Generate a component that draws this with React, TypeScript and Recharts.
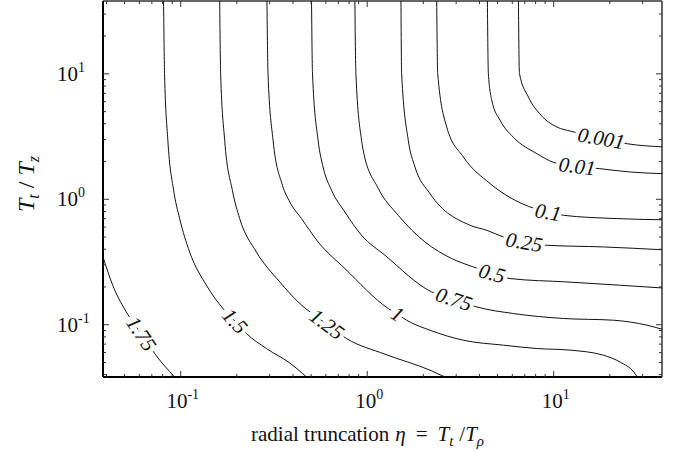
import React from 'react';
import { ComposedChart, Scatter, XAxis, YAxis, ReferenceDot } from 'recharts';

// axis range (both axes are log10)
const DOMAIN: [number, number] = [0.0383, 38.1];

const MAJOR_TICKS = [0.1, 1, 10];
const MINOR_TICKS = [
  0.04, 0.05, 0.06, 0.07, 0.08, 0.09,
  0.2, 0.3, 0.4, 0.5, 0.6, 0.7, 0.8, 0.9,
  2, 3, 4, 5, 6, 7, 8, 9,
  20, 30,
];
const ALL_TICKS = [...MINOR_TICKS, ...MAJOR_TICKS].sort((a, b) => a - b);

// contour lines (eta, Tt/Tz)
const c175 = [
  { x: 0.0383, y: 0.347 }, { x: 0.0432, y: 0.206 }, { x: 0.052, y: 0.121 },
  { x: 0.0614, y: 0.0846 }, { x: 0.0724, y: 0.059 }, { x: 0.0927, y: 0.0383 },
];
const c150 = [
  { x: 0.0809, y: 38.1 }, { x: 0.0819, y: 10.1 }, { x: 0.0853, y: 2.95 }, { x: 0.0916, y: 1.18 },
  { x: 0.0986, y: 0.706 }, { x: 0.1116, y: 0.38 }, { x: 0.1373, y: 0.2064 }, { x: 0.1685, y: 0.1346 },
  { x: 0.1948, y: 0.107 }, { x: 0.225, y: 0.0851 }, { x: 0.288, y: 0.0646 }, { x: 0.3846, y: 0.0495 },
  { x: 0.4727, y: 0.0383 },
];
const c125 = [
  { x: 0.1618, y: 38.1 }, { x: 0.1637, y: 10.1 }, { x: 0.1721, y: 2.95 }, { x: 0.1892, y: 1.18 },
  { x: 0.2071, y: 0.702 }, { x: 0.2547, y: 0.38 }, { x: 0.3398, y: 0.2193 }, { x: 0.426, y: 0.152 },
  { x: 0.6075, y: 0.1009 }, { x: 0.775, y: 0.0776 }, { x: 1.245, y: 0.0582 }, { x: 2.172, y: 0.0434 },
  { x: 2.614, y: 0.0383 },
];
const c100 = [
  { x: 0.29, y: 38.1 }, { x: 0.2938, y: 10.1 }, { x: 0.3128, y: 2.95 }, { x: 0.3512, y: 1.293 },
  { x: 0.3846, y: 0.952 }, { x: 0.4443, y: 0.702 }, { x: 0.5455, y: 0.457 }, { x: 0.759, y: 0.2805 },
  { x: 1.297, y: 0.1346 }, { x: 1.453, y: 0.1213 }, { x: 1.627, y: 0.1086 },
  { x: 2.172, y: 0.0904 }, { x: 3.28, y: 0.0752 }, { x: 5.377, y: 0.0687 }, { x: 8.125, y: 0.0646 },
  { x: 12.27, y: 0.0627 }, { x: 18.51, y: 0.0571 }, { x: 22.76, y: 0.0503 }, { x: 26.83, y: 0.0421 },
  { x: 28.08, y: 0.0383 },
];
const c075 = [
  { x: 0.5029, y: 38.1 }, { x: 0.5089, y: 10.1 }, { x: 0.5455, y: 2.95 }, { x: 0.58, y: 1.809 },
  { x: 0.644, y: 1.18 }, { x: 0.759, y: 0.792 }, { x: 0.933, y: 0.5165 }, { x: 1.245, y: 0.358 },
  { x: 2.218, y: 0.1826 }, { x: 2.92, y: 0.1596 }, { x: 3.868, y: 0.1386 }, { x: 6.083, y: 0.1228 },
  { x: 11.29, y: 0.1121 }, { x: 20.95, y: 0.1086 }, { x: 31.66, y: 0.0991 }, { x: 38.1, y: 0.0921 },
];
const c050 = [
  { x: 0.859, y: 38.1 }, { x: 0.8697, y: 10.1 }, { x: 0.933, y: 2.95 }, { x: 0.9517, y: 2.457 },
  { x: 1.146, y: 1.224 }, { x: 1.467, y: 0.7455 }, { x: 2.041, y: 0.457 }, { x: 2.84, y: 0.337 },
  { x: 3.71, y: 0.2888 }, { x: 4.675, y: 0.257 }, { x: 5.84, y: 0.2334 }, { x: 11.77, y: 0.2193 },
  { x: 22.76, y: 0.2064 }, { x: 38.1, y: 0.1964 },
];
const c025 = [
  { x: 1.517, y: 38.1 }, { x: 1.53, y: 10.1 }, { x: 1.661, y: 2.95 }, { x: 1.804, y: 1.809 },
  { x: 2.172, y: 1.11 }, { x: 3.561, y: 0.6206 }, { x: 4.377, y: 0.5662 },
  { x: 5.377, y: 0.5007 }, { x: 6.944, y: 0.455 }, { x: 9.195, y: 0.43 }, { x: 18.51, y: 0.417 },
  { x: 38.1, y: 0.396 },
];
const c010 = [
  { x: 2.359, y: 38.1 }, { x: 2.388, y: 10.1 }, { x: 2.669, y: 3.77 }, { x: 3.28, y: 2.173 },
  { x: 4.56, y: 1.334 }, { x: 7.477, y: 0.868 }, { x: 9.343, y: 0.788 },
  { x: 11.29, y: 0.7455 }, { x: 21.66, y: 0.702 }, { x: 38.1, y: 0.6866 },
];
const c001 = [
  { x: 4.411, y: 38.1 }, { x: 4.464, y: 10.1 }, { x: 4.658, y: 6.15 }, { x: 5.162, y: 4.26 },
  { x: 6.083, y: 3.119 }, { x: 8.125, y: 2.312 }, { x: 9.975, y: 1.971 }, { x: 13.37, y: 1.83 },
  { x: 17.55, y: 1.756 }, { x: 25.76, y: 1.65 }, { x: 38.1, y: 1.602 },
];
const c0001 = [
  { x: 6.471, y: 38.1 }, { x: 6.551, y: 10.1 }, { x: 7.322, y: 6.533 }, { x: 8.567, y: 4.67 },
  { x: 10.4, y: 3.77 }, { x: 12.42, y: 3.482 }, { x: 17.99, y: 3.062 }, { x: 24.97, y: 2.768 },
  { x: 38.1, y: 2.62 },
];

const CONTOURS = [c175, c150, c125, c100, c075, c050, c025, c010, c001, c0001];

// inline contour labels
const labelText = ['1.75', '1.5', '1.25', '1', '0.75', '0.5', '0.25', '0.1', '0.01', '0.001'];
const labelX = [0.0614, 0.1948, 0.6075, 1.453, 2.92, 4.675, 6.944, 9.343, 13.37, 17.99];
const labelY = [0.0846, 0.107, 0.1009, 0.1213, 0.1596, 0.257, 0.455, 0.788, 1.83, 3.062];

// label rotation (degrees, along the curve)
const LABEL_ROT = [56, 47, 37, 32, 18, 15, 10, 10, 7, 10];

const FONT = '"Liberation Serif", "Times New Roman", serif';
const MAJOR_LEN = 6;
const MINOR_LEN = 3;

const isMajor = (v: number) => MAJOR_TICKS.includes(v);
const expOf = (v: number) => String(Math.round(Math.log10(v)));

function TickLabel({ x, y, v, anchor }: any) {
  return (
    <text x={x} y={y} textAnchor={anchor} fontFamily={FONT} fontSize={21} fill="#111">
      10<tspan dy={-9} fontSize={14}>{expOf(v)}</tspan>
    </text>
  );
}

function BottomTick(props: any) {
  const { x, y, payload } = props;
  const v = payload.value;
  const m = isMajor(v);
  return (
    <g>
      <line x1={x} x2={x} y1={y} y2={y - (m ? MAJOR_LEN : MINOR_LEN)} stroke="#333" />
      {m && <TickLabel x={x + 2} y={y + 31} v={v} anchor="middle" />}
    </g>
  );
}

function TopTick(props: any) {
  const { x, y, payload } = props;
  const m = isMajor(payload.value);
  return <line x1={x} x2={x} y1={y} y2={y + (m ? MAJOR_LEN : MINOR_LEN)} stroke="#333" />;
}

function LeftTick(props: any) {
  const { x, y, payload } = props;
  const v = payload.value;
  const m = isMajor(v);
  return (
    <g>
      <line x1={x} x2={x + (m ? MAJOR_LEN : MINOR_LEN)} y1={y} y2={y} stroke="#333" />
      {m && <TickLabel x={x - 46} y={y + 7} v={v} anchor="start" />}
    </g>
  );
}

function RightTick(props: any) {
  const { x, y, payload } = props;
  const m = isMajor(payload.value);
  return <line x1={x} x2={x - (m ? MAJOR_LEN : MINOR_LEN)} y1={y} y2={y} stroke="#333" />;
}

function ContourLabel({ cx, cy, text, angle }: any) {
  return (
    <text
      transform={`translate(${cx},${cy}) rotate(${angle})`}
      textAnchor="middle"
      dominantBaseline="central"
      fontFamily={FONT}
      fontStyle="italic"
      fontSize={21}
      fill="#111"
      stroke="#fff"
      strokeWidth={8}
      paintOrder="stroke"
    >
      {text}
    </text>
  );
}

const noDot = () => <g />;

export default function App() {
  return (
    <div style={{ position: 'relative', width: 673, height: 451 }}>
      <style>{'body{margin:0}'}</style>
      <ComposedChart width={673} height={451} margin={{ top: 0, right: 0, bottom: 0, left: 0 }}>
        <XAxis
          xAxisId="b" dataKey="x" type="number" scale="log" domain={DOMAIN} allowDataOverflow
          ticks={ALL_TICKS} interval={0} height={74} tickSize={0} tickMargin={0} tickLine={false}
          axisLine={{ stroke: '#000', strokeWidth: 2 }} tick={<BottomTick />}
        />
        <XAxis
          xAxisId="t" orientation="top" dataKey="x" type="number" scale="log" domain={DOMAIN} allowDataOverflow
          ticks={ALL_TICKS} interval={0} height={1} tickSize={0} tickMargin={0} tickLine={false}
          axisLine={{ stroke: '#333', strokeWidth: 1.5 }} tick={<TopTick />}
        />
        <YAxis
          yAxisId="l" dataKey="y" type="number" scale="log" domain={DOMAIN} allowDataOverflow
          ticks={ALL_TICKS} interval={0} width={103} tickSize={0} tickMargin={0} tickLine={false}
          axisLine={{ stroke: '#000', strokeWidth: 2 }} tick={<LeftTick />}
        />
        <YAxis
          yAxisId="r" orientation="right" dataKey="y" type="number" scale="log" domain={DOMAIN} allowDataOverflow
          ticks={ALL_TICKS} interval={0} width={11} tickSize={0} tickMargin={0} tickLine={false}
          axisLine={{ stroke: '#333', strokeWidth: 1.5 }} tick={<RightTick />}
        />
        {CONTOURS.map((c, i) => (
          <Scatter
            key={`c-${i}`}
            data={c}
            xAxisId="b"
            yAxisId="l"
            line={{ stroke: '#111', strokeWidth: 1 }}
            lineJointType="monotoneX"
            shape={noDot}
            isAnimationActive={false}
          />
        ))}
        {labelText.map((t, i) => (
          <ReferenceDot
            key={`l-${i}`}
            xAxisId="b"
            yAxisId="l"
            x={labelX[i]}
            y={labelY[i]}
            r={0}
            shape={(p: any) => <ContourLabel cx={p.cx} cy={p.cy} text={t} angle={LABEL_ROT[i]} />}
          />
        ))}
      </ComposedChart>
      <svg width={673} height={451} style={{ position: 'absolute', left: 0, top: 0, pointerEvents: 'none' }}>
        <text x={251} y={441} fontFamily={FONT} fontSize={21} fill="#111">
          radial truncation
          <tspan dx={6} fontStyle="italic">η</tspan>
          <tspan dx={10}>=</tspan>
          <tspan dx={10} fontStyle="italic">T</tspan>
          <tspan dy={5} fontSize={15} fontStyle="italic">t</tspan>
          <tspan dy={-5} dx={6}>/</tspan>
          <tspan fontStyle="italic">T</tspan>
          <tspan dy={5} fontSize={15} fontStyle="italic">ρ</tspan>
        </text>
        <text transform="translate(34,184) rotate(-90)" textAnchor="middle" fontFamily={FONT} fontSize={24} fill="#111">
          <tspan fontStyle="italic">T</tspan>
          <tspan dy={5} fontSize={16} fontStyle="italic">t</tspan>
          <tspan dy={-5}> / </tspan>
          <tspan fontStyle="italic">T</tspan>
          <tspan dy={5} fontSize={16} fontStyle="italic">z</tspan>
        </text>
      </svg>
    </div>
  );
}
